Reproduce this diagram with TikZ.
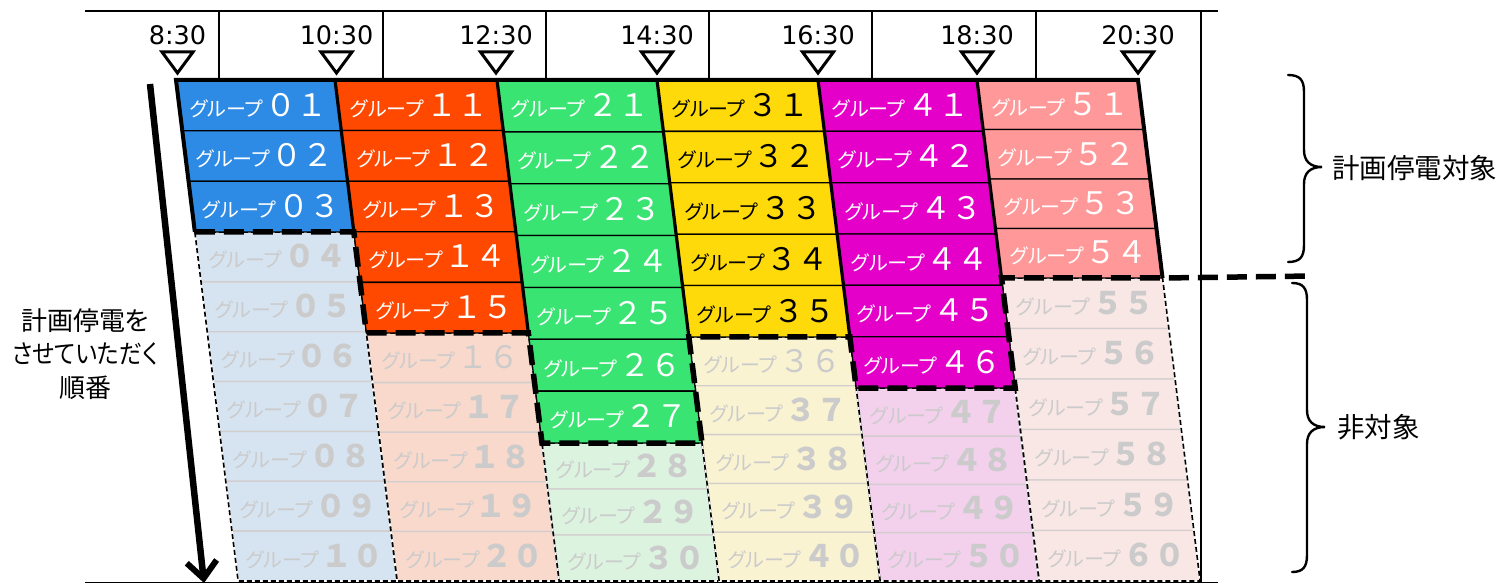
\documentclass[tikz,border=0pt]{standalone}
\usepackage{fontspec}
\usepackage{graphicx}
\setmainfont{Noto Sans CJK JP}
\newfontfamily\jpp[RawFeature=+palt]{Noto Sans CJK JP}
\newfontfamily\lat{DejaVu Sans}
\usetikzlibrary{arrows.meta}

\definecolor{hA}{RGB}{46,139,229}
\definecolor{hB}{RGB}{255,72,0}
\definecolor{hC}{RGB}{58,228,115}
\definecolor{hD}{RGB}{255,218,10}
\definecolor{hE}{RGB}{228,0,200}
\definecolor{hF}{RGB}{255,153,153}
\definecolor{fA}{RGB}{214,227,240}
\definecolor{fB}{RGB}{248,217,204}
\definecolor{fC}{RGB}{220,243,224}
\definecolor{fD}{RGB}{250,243,210}
\definecolor{fE}{RGB}{243,208,236}
\definecolor{fF}{RGB}{249,231,229}
\definecolor{rowgrey}{RGB}{210,206,206}
\definecolor{fadetext}{RGB}{203,203,203}

\newcommand{\fwd}[1]{\ifcase#1 ０\or １\or ２\or ３\or ４\or ５\or ６\or ７\or ８\or ９\fi}
\newcommand{\grplabel}[3]{{\jpp\fontsize{20}{20}\selectfont グループ}\hspace{2pt}{\fontsize{31}{31}\selectfont#3\fwd{#1}\fwd{#2}}}

\tikzset{
  hcell/.style={draw=black, line width=1.3},
  fcell/.style={draw=rowgrey, line width=1.3},
  fout/.style={draw=black, line width=1.6, dash pattern=on 5pt off 3pt},
  fwhite/.style={draw=white, line width=1.6},
  stair/.style={draw=black, line width=5.5, dash pattern=on 20pt off 9pt},
  sepline/.style={draw=black, line width=3.2},
  outer/.style={draw=black, line width=4, line join=miter},
  tbl/.style={draw=black, line width=1.5},
  tri/.style={draw=black, line width=3, fill=white, line join=miter},
  tlabel/.style={font=\lat\fontsize{25.5}{25.5}\selectfont, anchor=base, inner sep=0},
  grp/.style={inner sep=0, anchor=center},
  jlabel/.style={font=\jpp\fontsize{26}{33.5}\selectfont, align=center, inner sep=0},
  rlabel/.style={font=\fontsize{27.5}{30}\selectfont, anchor=west, inner sep=0},
  bracepath/.style={draw=black, line width=2.4, line cap=round},
}

\begin{document}
\begin{tikzpicture}[x=1pt,y=-1pt]
\useasboundingbox (0,0) rectangle (1505,585);
\def\sl{0.124}
\def\yE{581}
\def\colx{{176,335,497,657,818,977,1138}}

% ---------- faded cells ----------
\foreach \cj/\nk/\Bv/\fc in {0/3/232/fA,1/5/333/fB,2/7/443/fC,3/5/337/fD,4/6/388/fE,5/4/278/fF}{
  \pgfmathsetmacro{\xl}{\colx[\cj]}
  \pgfmathsetmacro{\xr}{\colx[\cj+1]}
  \pgfmathsetmacro{\fh}{(\yE-\Bv)/(10-\nk)}
  \pgfmathtruncatemacro{\st}{\nk+1}
  \foreach \rr in {\st,...,10}{
    \pgfmathsetmacro{\ya}{\Bv+(\rr-\nk-1)*\fh}
    \pgfmathsetmacro{\yb}{\ya+\fh}
    \path[fcell, fill=\fc] ({\xl+\sl*(\ya-80)},\ya) -- ({\xr+\sl*(\ya-80)},\ya) -- ({\xr+\sl*(\yb-80)},\yb) -- ({\xl+\sl*(\yb-80)},\yb) -- cycle;
  }
}
% faded outlines
\foreach \cj/\Bv in {0/232,1/333,2/443,3/337,4/388,5/278}{
  \pgfmathsetmacro{\xl}{\colx[\cj]}
  \pgfmathsetmacro{\xr}{\colx[\cj+1]}
  \path[fwhite] ({\xl+\sl*(\Bv-80)},\Bv) -- ({\xr+\sl*(\Bv-80)},\Bv) -- ({\xr+\sl*(\yE-80)},\yE) -- ({\xl+\sl*(\yE-80)},\yE) -- cycle;
  \path[fout] ({\xl+\sl*(\Bv-80)},\Bv) -- ({\xr+\sl*(\Bv-80)},\Bv) -- ({\xr+\sl*(\yE-80)},\yE) -- ({\xl+\sl*(\yE-80)},\yE) -- cycle;
}

% ---------- highlighted cells ----------
\foreach \cj/\nk/\Bv/\hc in {0/3/232/hA,1/5/333/hB,2/7/443/hC,3/5/337/hD,4/6/388/hE,5/4/278/hF}{
  \pgfmathsetmacro{\xl}{\colx[\cj]}
  \pgfmathsetmacro{\xr}{\colx[\cj+1]}
  \pgfmathsetmacro{\hh}{(\Bv-80)/\nk}
  \foreach \rr in {1,...,\nk}{
    \pgfmathsetmacro{\ya}{80+(\rr-1)*\hh}
    \pgfmathsetmacro{\yb}{\ya+\hh}
    \path[hcell, fill=\hc] ({\xl+\sl*(\ya-80)},\ya) -- ({\xr+\sl*(\ya-80)},\ya) -- ({\xr+\sl*(\yb-80)},\yb) -- ({\xl+\sl*(\yb-80)},\yb) -- cycle;
  }
}

% separators between highlighted columns
\foreach \cj/\ye in {1/232,2/333,3/337,4/337,5/278}{
  \pgfmathsetmacro{\xx}{\colx[\cj]}
  \path[sepline] (\xx,80) -- ({\xx+\sl*(\ye-80)},\ye);
}

% staircase boundary points
\coordinate (p0) at ({176+\sl*152},232);
\coordinate (p1) at ({335+\sl*152},232);
\coordinate (p2) at ({335+\sl*253},333);
\coordinate (p3) at ({497+\sl*253},333);
\coordinate (p4) at ({497+\sl*363},443);
\coordinate (p5) at ({657+\sl*363},443);
\coordinate (p6) at ({657+\sl*257},337);
\coordinate (p7) at ({818+\sl*257},337);
\coordinate (p8) at ({818+\sl*308},388);
\coordinate (p9) at ({977+\sl*308},388);
\coordinate (p10) at ({977+\sl*198},278);
\coordinate (p11) at ({1138+\sl*198},278);
\coordinate (p12) at (1313,276);
\coordinate (tl) at (176,80);
\coordinate (tr) at (1138,80);

\path[outer] (p0) -- (tl) -- (tr) -- (p11);
\path[stair] (p0) -- (p1) -- (p2) -- (p3) -- (p4) -- (p5) -- (p6) -- (p7) -- (p8) -- (p9) -- (p10) -- (p11) -- (p12);

% ---------- cell labels ----------
\foreach \cj/\nk/\Bv/\tc in {0/3/232/white,1/5/333/white,2/7/443/white,3/5/337/black,4/6/388/white,5/4/278/white}{
  \pgfmathsetmacro{\xl}{\colx[\cj]}
  \pgfmathsetmacro{\xr}{\colx[\cj+1]}
  \pgfmathsetmacro{\hh}{(\Bv-80)/\nk}
  \pgfmathsetmacro{\fh}{(\yE-\Bv)/(10-\nk)}
  \foreach \rr in {1,...,10}{
    \pgfmathtruncatemacro{\num}{10*\cj+\rr}
    \pgfmathtruncatemacro{\tens}{div(\num,10)}
    \pgfmathtruncatemacro{\ones}{mod(\num,10)}
    \ifnum\rr>\nk
      \pgfmathsetmacro{\yc}{\Bv+(\rr-\nk-0.5)*\fh}
      \pgfmathsetmacro{\xc}{(\xl+\xr)/2+\sl*(\yc-80)}
      \ifnum\num=16
        \node[grp, text=fadetext] (g-\cj-\rr) at (\xc,\yc) {\grplabel{\tens}{\ones}{}};
      \else\ifnum\num=36
        \node[grp, text=fadetext] (g-\cj-\rr) at (\xc,\yc) {\grplabel{\tens}{\ones}{}};
      \else
        \node[grp, text=fadetext] (g-\cj-\rr) at (\xc,\yc) {\grplabel{\tens}{\ones}{\bfseries}};
      \fi\fi
    \else
      \pgfmathsetmacro{\yc}{80+(\rr-0.5)*\hh}
      \pgfmathsetmacro{\xc}{(\xl+\xr)/2+\sl*(\yc-80)}
      \node[grp, text=\tc] (g-\cj-\rr) at (\xc,\yc) {\grplabel{\tens}{\ones}{}};
    \fi
  }
}

% ---------- table frame ----------
\path[tbl] (85,11) -- (1218,11);
\path[tbl] (85,582.5) -- (1218,582.5);
\foreach \xx in {219,383,546,709,872,1036}{
  \path[tbl] (\xx,11) -- (\xx,80);
}
\path[tbl] (1201,11) -- (1201,582.5);

% ---------- time markers ----------
\foreach \xx/\tt/\nm in {177.5/8:30/a,336.5/10:30/b,496/12:30/c,657/14:30/d,818/16:30/e,977/18:30/f,1138/20:30/g}{
  \path[tri] ({\xx-15.5},52) -- ({\xx+15.5},52) -- (\xx,73) -- cycle;
  \node[tlabel] (time-\nm) at (\xx,45) {\tt};
}

% ---------- order arrow and label ----------
\coordinate (arrS) at (150,84);
\coordinate (arrE) at (204,583);
\draw[line width=6.5, -{Straight Barb[length=17pt,width=30pt,line width=6pt]}] (arrS) -- (arrE);
\node[jlabel] (order) at (85,354) {計画停電を\\\scalebox{0.88}[1]{させていただく}\\順番};

% ---------- braces ----------
\path[bracepath] (1288,75) .. controls (1300,75) and (1304,80) .. (1304,92) -- (1304,150) .. controls (1304,161) and (1310,167) .. (1322,167) .. controls (1310,167) and (1304,173) .. (1304,184) -- (1304,245) .. controls (1304,257) and (1300,262) .. (1288,262);
\path[bracepath] (1292,283) .. controls (1303,283) and (1307,288) .. (1307,300) -- (1307,410) .. controls (1307,421) and (1313,427) .. (1325,427) .. controls (1313,427) and (1307,433) .. (1307,444) -- (1307,555) .. controls (1307,567) and (1303,572) .. (1292,572);
\node[rlabel] (target) at (1332,168) {計画停電対象};
\node[rlabel] (nontarget) at (1337,427) {非対象};
\end{tikzpicture}
\end{document}
